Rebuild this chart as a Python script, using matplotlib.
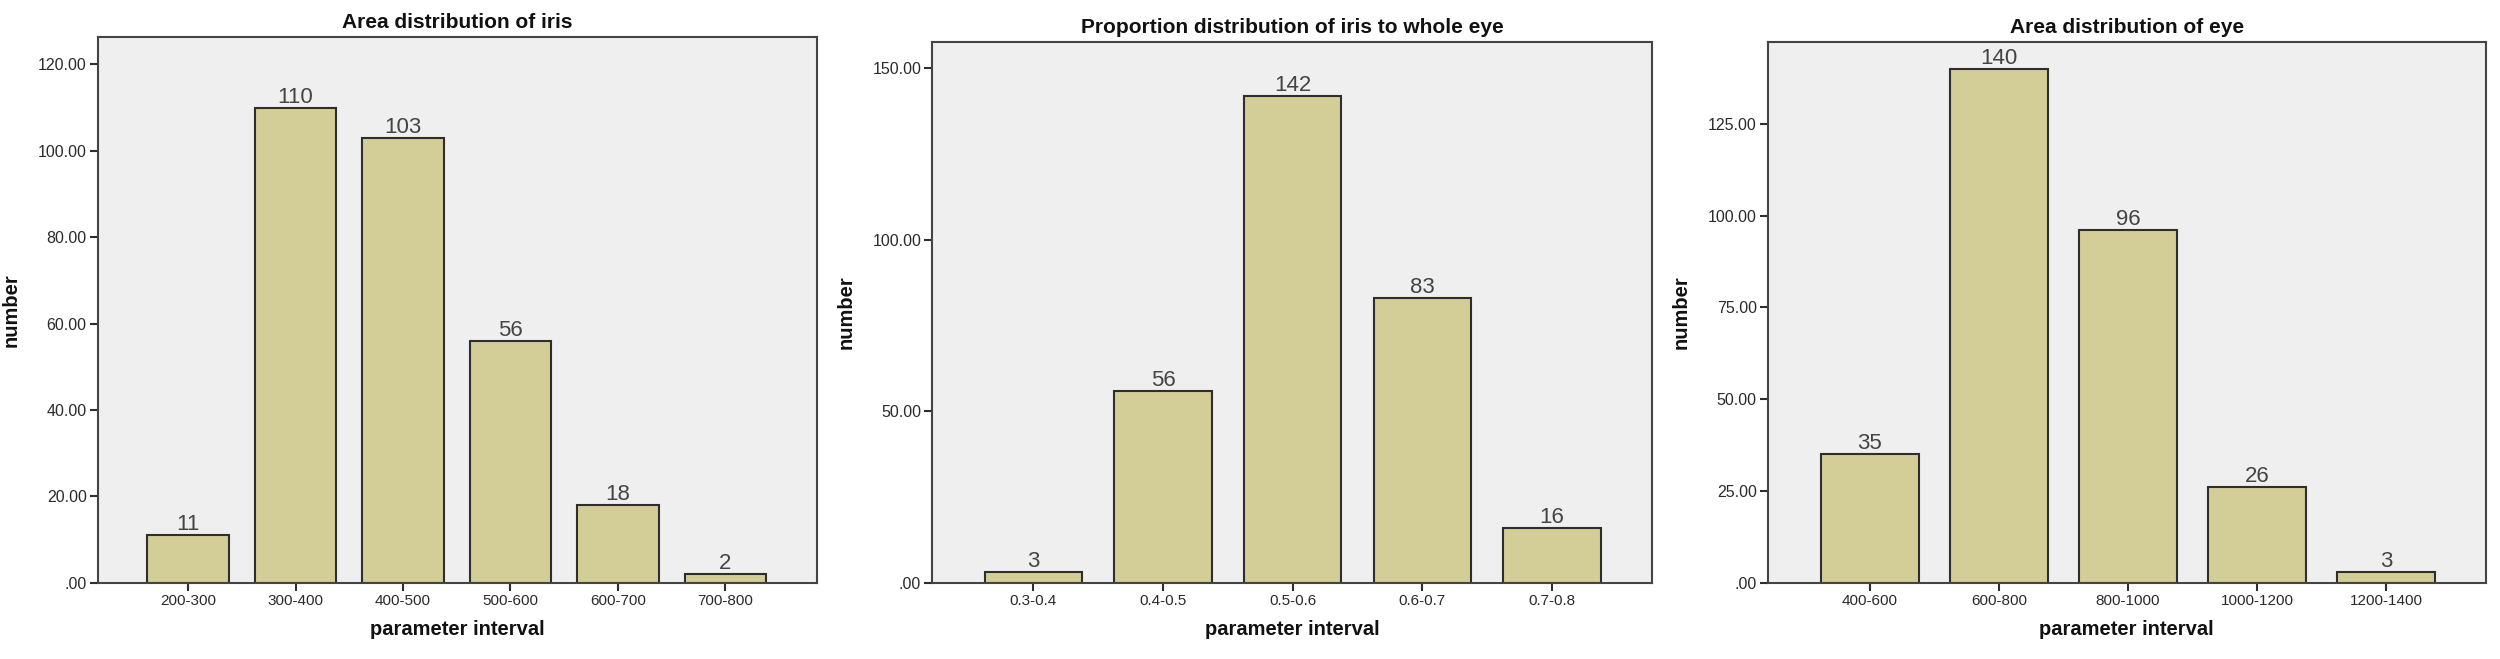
import matplotlib
matplotlib.use("Agg")
import matplotlib.pyplot as plt

plt.rcParams["font.family"] = ["Liberation Sans", "DejaVu Sans"]

# data
iris_bins = ["200-300", "300-400", "400-500", "500-600", "600-700", "700-800"]
iris_counts = [11, 110, 103, 56, 18, 2]

ratio_bins = ["0.3-0.4", "0.4-0.5", "0.5-0.6", "0.6-0.7", "0.7-0.8"]
ratio_counts = [3, 56, 142, 83, 16]

eye_bins = ["400-600", "600-800", "800-1000", "1000-1200", "1200-1400"]
eye_counts = [35, 140, 96, 26, 3]

iris_yticks = [0, 20, 40, 60, 80, 100, 120]
ratio_yticks = [0, 50, 100, 150]
eye_yticks = [0, 25, 50, 75, 100, 125]

BAR_COLOR = "#D3CE97"
EDGE_COLOR = "#2e2e2e"
BG_COLOR = "#EFEFEF"
TEXT_COLOR = "#2a2a2a"

panels = [
    dict(title="Area distribution of iris", bins=iris_bins, counts=iris_counts,
         yticks=iris_yticks, ylim=126.4, xlim=(-0.84, 5.85), width=0.76,
         rect=[0.0391, 0.1158, 0.2876, 0.8285]),
    dict(title="Proportion distribution of iris to whole eye", bins=ratio_bins,
         counts=ratio_counts, yticks=ratio_yticks, ylim=157.8, xlim=(-0.78, 4.77),
         width=0.75, rect=[0.3729, 0.1158, 0.2878, 0.8209]),
    dict(title="Area distribution of eye", bins=eye_bins, counts=eye_counts,
         yticks=eye_yticks, ylim=147.4, xlim=(-0.79, 4.77), width=0.76,
         rect=[0.7071, 0.1158, 0.2872, 0.8209]),
]


def fmt_tick(v):
    s = f"{v:.2f}"
    return s[1:] if v == 0 else s


fig = plt.figure(figsize=(25, 6.59), dpi=100)
fig.patch.set_facecolor("white")

for p in panels:
    ax = fig.add_axes(p["rect"])
    ax.set_facecolor(BG_COLOR)
    x = range(len(p["bins"]))
    bars = ax.bar(x, p["counts"], width=p["width"], color=BAR_COLOR,
                  edgecolor=EDGE_COLOR, linewidth=1.5, zorder=2)
    ax.bar_label(bars, labels=[str(c) for c in p["counts"]], padding=0,
                 fontsize=16, color="#444444")
    ax.set_xlim(*p["xlim"])
    ax.set_ylim(0, p["ylim"])
    ax.set_xticks(list(x))
    ax.set_xticklabels(p["bins"], fontsize=11, color=TEXT_COLOR)
    ax.set_yticks(p["yticks"])
    ax.set_yticklabels([fmt_tick(v) for v in p["yticks"]], fontsize=11.5,
                       color=TEXT_COLOR)
    ax.tick_params(axis="both", direction="out", length=6, width=1.5,
                   color=EDGE_COLOR, pad=2)
    for sp in ax.spines.values():
        sp.set_color("#444444")
        sp.set_linewidth(1.5)
    ax.set_title(p["title"], fontsize=15, fontweight="bold", color="#111111",
                 pad=6)
    ax.set_xlabel("parameter interval", fontsize=14.5, fontweight="bold",
                  color="#111111", labelpad=9)
    ax.set_ylabel("number", fontsize=14.5, fontweight="bold", color="#111111",
                  labelpad=12)

fig.savefig("out.png", dpi=100, facecolor="white")
